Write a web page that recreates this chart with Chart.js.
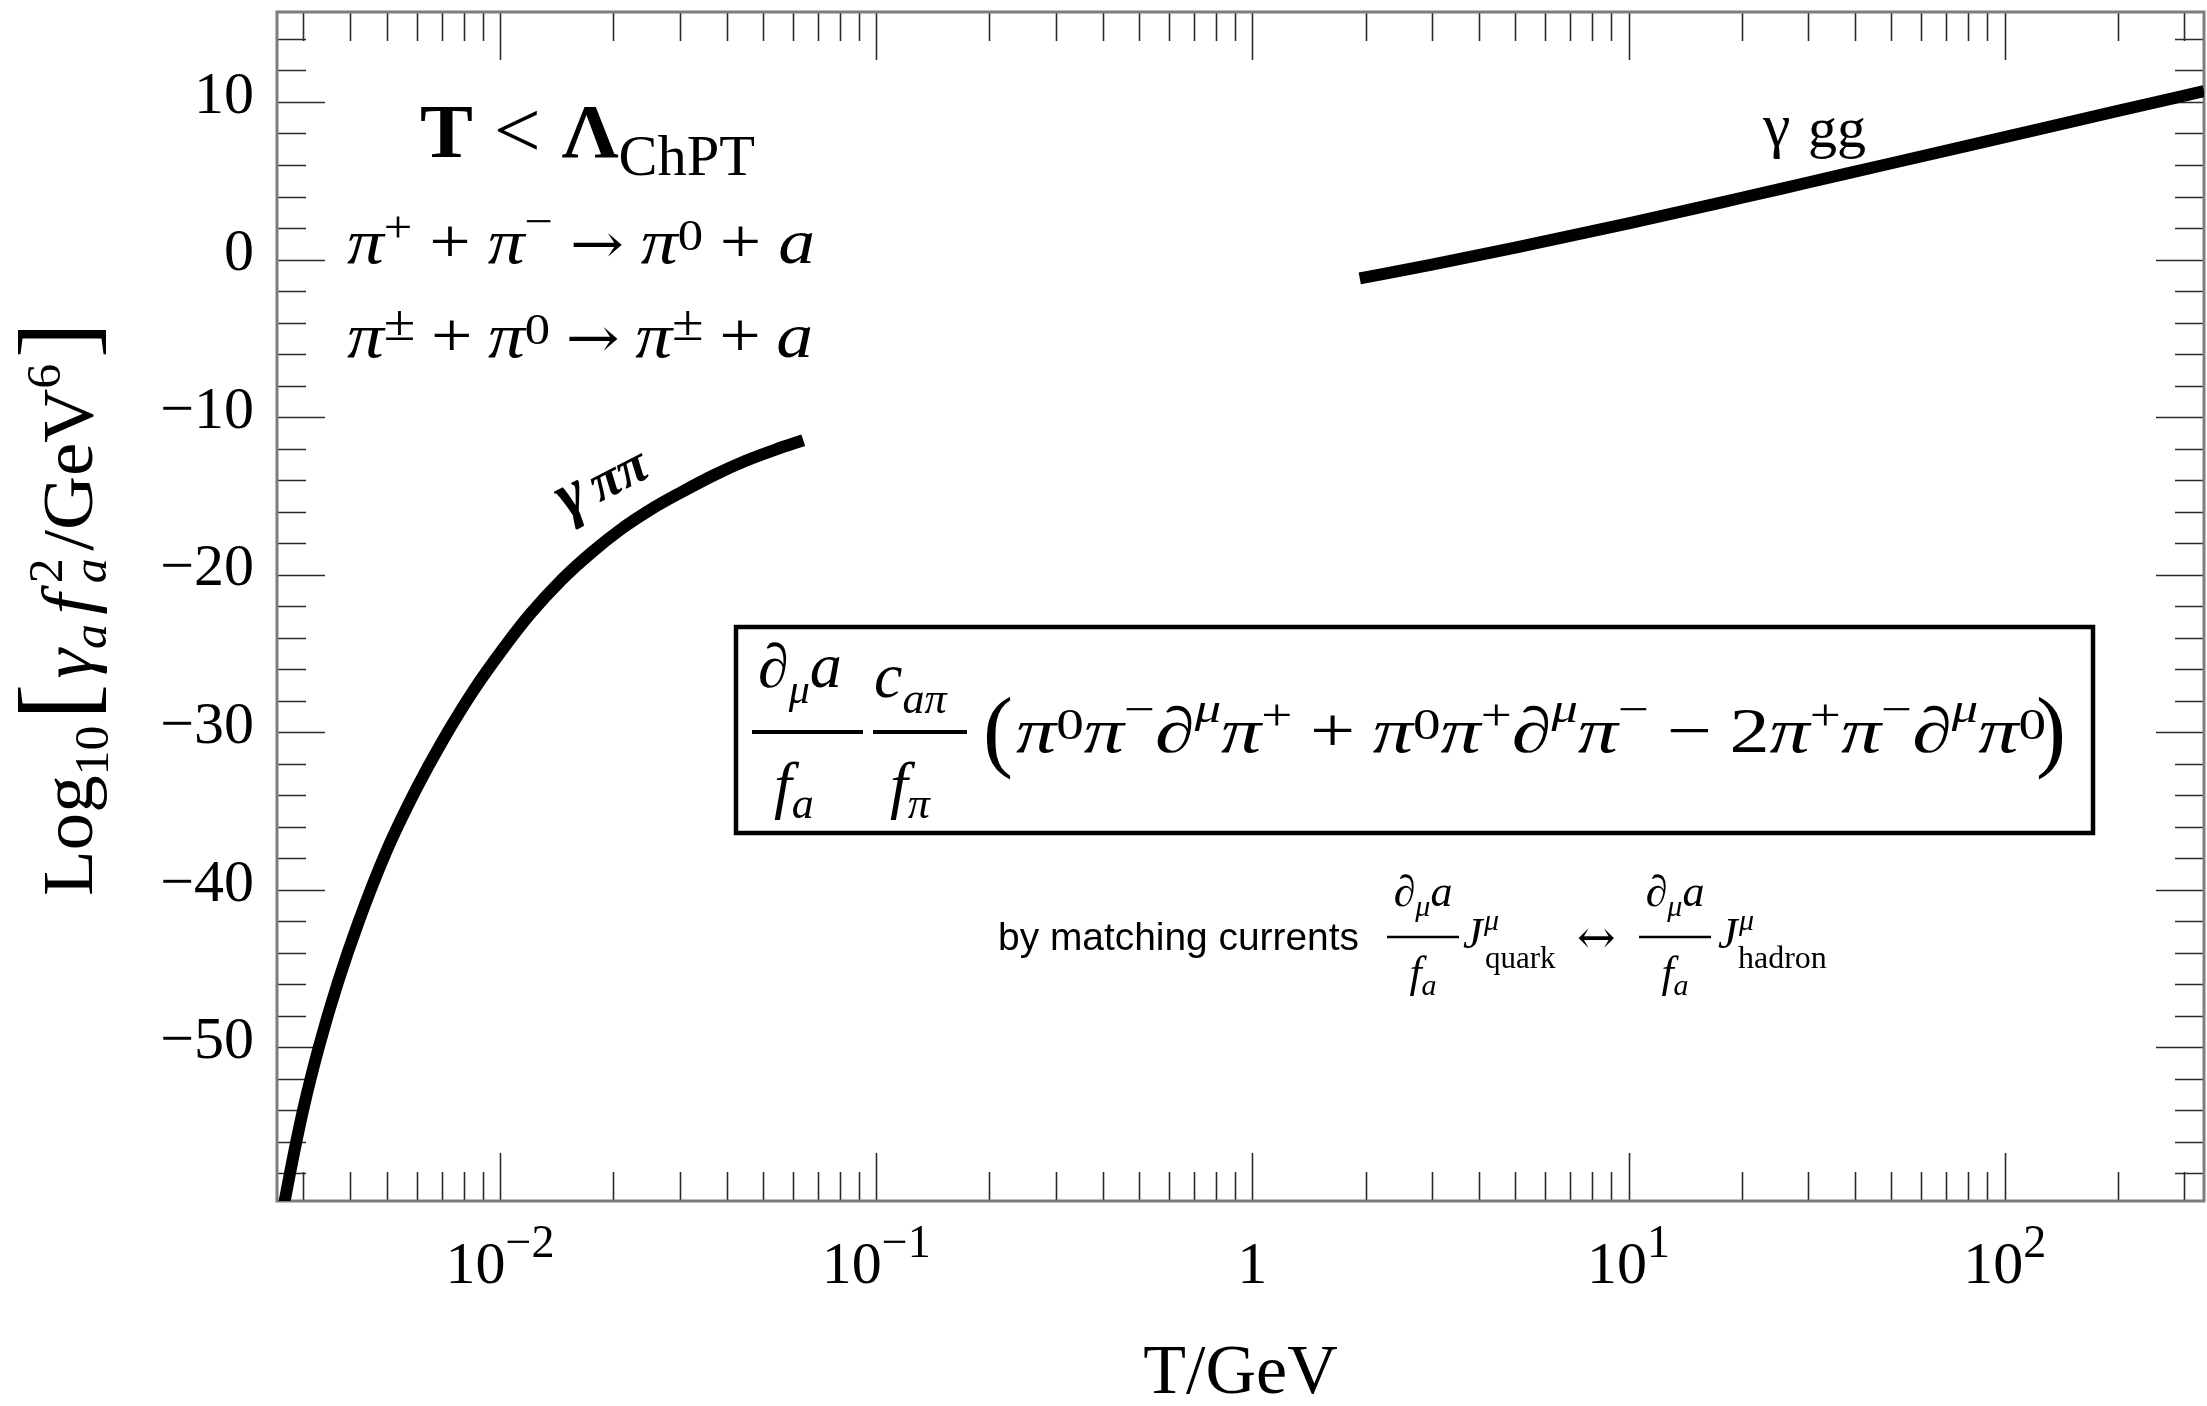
<!DOCTYPE html>
<html>
<head>
<meta charset="utf-8">
<script src="https://cdn.jsdelivr.net/npm/chart.js@4.4.1/dist/chart.umd.min.js"></script>
<style>
  html, body { margin: 0; padding: 0; background: #ffffff; }
  #wrap { width: 2207px; height: 1406px; }
  canvas { display: block; }
</style>
</head>
<body>
<div id="wrap"><canvas id="rates" width="2207" height="1406"></canvas></div>
<script>
// Pion scattering rate (T < Λ_ChPT), temperature in GeV
const tPion = [0.0026, 0.0028, 0.003, 0.0033, 0.0037, 0.0042, 0.005, 0.006, 0.007, 0.0085,
               0.01, 0.012, 0.0145, 0.0175, 0.021, 0.025, 0.03, 0.037, 0.045, 0.054, 0.064];
const logRatePion = [-61.3, -57.3, -53.9, -49.96, -45.93, -42.08, -37.5, -33.56, -30.63, -27.35,
                     -24.96, -22.52, -20.38, -18.6, -17.1, -15.9, -14.83, -13.69, -12.77, -12.06, -11.47];

// Gluon scattering rate, temperature in GeV
const tGluon = [1.93, 3, 5, 10, 20, 30, 50, 100, 200, 338.8];
const logRateGluon = [-1.2, -0.32, 0.756, 2.29, 3.92, 4.89, 6.11, 7.77, 9.43, 10.69];

// Axis ranges and labelled ticks
const xRange = [0.002553, 338.8];
const yRange = [-59.75, 15.71];
const xDecades = [0.01, 0.1, 1, 10, 100];
const xDecadeLabels = [['10', '−2'], ['10', '−1'], ['1', ''], ['10', '1'], ['10', '2']];
const yMajorTicks = [-50, -40, -30, -20, -10, 0, 10];

const SERIF = '"Liberation Serif", "Times New Roman", serif';
const SANS = '"Liberation Sans", Arial, sans-serif';
const ARROWS = '"DejaVu Serif", "DejaVu Sans", serif';
const F = (size, style) => `${style || ''} ${size}px ${SERIF}`.trim();

// Draw a run of differently styled pieces on one baseline.
// Piece: {t, f, dy, dx, stay, tight}. "dx" nudges the pen, "stay" keeps the pen in place
// (stacked sub/sup), "tight" attaches the piece to the one before it (no added spacing).
// With a target width the run is widened a little, then padded between main glyphs.
function rich(ctx, x, y, parts, target, maxStretch) {
  const widths = parts.map(p => { ctx.font = p.f; return ctx.measureText(p.t).width; });
  let natural = 0;
  parts.forEach((p, i) => { natural += (p.dx || 0); if (!p.stay) natural += widths[i]; });
  let sx = 1, extra = 0;
  if (target) {
    sx = Math.min(Math.max(target / natural, 1), maxStretch || 1);
    let gaps = 0;
    parts.forEach((p, i) => { if (i > 0 && !p.tight && !parts[i - 1].stay) gaps++; });
    extra = gaps ? (target / sx - natural) / gaps : 0;
  }
  ctx.save();
  ctx.translate(x, y);
  ctx.scale(sx, 1);
  ctx.textAlign = 'left';
  ctx.textBaseline = 'alphabetic';
  let cx = 0;
  parts.forEach((p, i) => {
    if (i > 0 && !p.tight && !parts[i - 1].stay) cx += extra;
    cx += (p.dx || 0);
    ctx.font = p.f;
    ctx.fillText(p.t, cx, p.dy || 0);
    if (!p.stay) cx += widths[i];
  });
  ctx.restore();
  return x + cx * sx;
}
function richWidth(ctx, parts) {
  let w = 0;
  parts.forEach(p => { ctx.font = p.f; w += (p.dx || 0); if (!p.stay) w += ctx.measureText(p.t).width; });
  return w;
}
function hline(ctx, x0, x1, y, w) {
  ctx.beginPath(); ctx.lineWidth = w; ctx.moveTo(x0, y); ctx.lineTo(x1, y); ctx.stroke();
}

// Frame with inward ticks on all four sides, and the decade labels
const framePlugin = {
  id: 'frameTicks',
  beforeDatasetsDraw(chart) {
    const { ctx, chartArea: a, scales: { x, y } } = chart;
    ctx.save();
    ctx.strokeStyle = '#2a2a2a';
    ctx.lineWidth = 1.6;
    ctx.beginPath();
    for (let e = -3; e <= 2; e++) {
      for (let m = 1; m <= 9; m++) {
        const v = m * Math.pow(10, e);
        if (v < xRange[0] || v > xRange[1]) continue;
        const px = Math.round(x.getPixelForValue(v)) + 0.5;
        const len = m === 1 ? 48 : 29;
        ctx.moveTo(px, a.bottom); ctx.lineTo(px, a.bottom - len);
        ctx.moveTo(px, a.top); ctx.lineTo(px, a.top + len);
      }
    }
    for (let v = -58; v <= 14; v += 2) {
      const py = Math.round(y.getPixelForValue(v)) + 0.5;
      const len = v % 10 === 0 ? 48 : 29;
      ctx.moveTo(a.left, py); ctx.lineTo(a.left + len, py);
      ctx.moveTo(a.right, py); ctx.lineTo(a.right - len, py);
    }
    ctx.stroke();
    ctx.strokeStyle = '#7d7d7d';
    ctx.lineWidth = 3;
    ctx.strokeRect(a.left, a.top, a.right - a.left, a.bottom - a.top);
    ctx.restore();
  },
  afterDraw(chart) {
    const { ctx, scales: { x } } = chart;
    ctx.save();
    ctx.fillStyle = '#000';
    xDecades.forEach((v, i) => {
      const [base, sup] = xDecadeLabels[i];
      const parts = [{ t: base, f: F(60) }];
      if (sup) parts.push({ t: sup, f: F(46), dy: -26 });
      const w = richWidth(ctx, parts);
      rich(ctx, x.getPixelForValue(v) - w / 2, 1283, parts);
    });
    ctx.restore();
  }
};

// Text annotations inside and beside the plot
const notePlugin = {
  id: 'notes',
  afterDatasetsDraw(chart) {
    const { ctx } = chart;
    ctx.save();
    ctx.fillStyle = '#000';
    ctx.strokeStyle = '#000';

    // y-axis title, rotated
    ctx.save();
    ctx.translate(92, 896);
    ctx.rotate(-Math.PI / 2);
    rich(ctx, 0, 0, [
      { t: 'Log', f: F(72) },
      { t: '10', f: F(48), dy: 16, tight: true },
      { t: '[', f: F(105), dx: 2 },
      { t: 'γ', f: F(72, 'italic'), dx: 2 },
      { t: 'a', f: F(48, 'italic'), dy: 14, tight: true },
      { t: 'f', f: F(72, 'italic'), dx: 6 },
      { t: '2', f: F(48), dy: -30, dx: 10, stay: true, tight: true },
      { t: 'a', f: F(48, 'italic'), dy: 14, tight: true },
      { t: '/GeV', f: F(72), dx: 4 },
      { t: '6', f: F(48), dy: -32, tight: true },
      { t: ']', f: F(105), dx: 2 }
    ], 574, 1.04);
    ctx.restore();

    // regime heading
    rich(ctx, 420, 157, [
      { t: 'T', f: F(76, 'bold') },
      { t: ' < ', f: F(80) },
      { t: 'Λ', f: F(76, 'bold') },
      { t: 'ChPT', f: F(56), dy: 18, tight: true }
    ], 335, 1.05);

    // reactions
    const pi = { t: 'π', f: F(64, 'italic') };
    const a = { t: 'a', f: F(64, 'italic') };
    const plus = { t: '+', f: F(64) };
    const arrow = { t: '→', f: `56px ${ARROWS}` };
    const supP = { t: '+', f: F(44), dy: -21, tight: true };
    const supM = { t: '−', f: F(44), dy: -27, tight: true };
    const sup0 = { t: '0', f: F(44), dy: -13, tight: true };
    const supPM = { t: '±', f: F(50), dy: -17, tight: true };
    rich(ctx, 347, 263, [pi, supP, plus, pi, supM, arrow, pi, sup0, plus, a], 468, 1.15);
    rich(ctx, 347, 357, [pi, supPM, plus, pi, sup0, arrow, pi, supPM, plus, a], 466, 1.15);

    // curve labels
    ctx.save();
    ctx.translate(567, 519);
    ctx.rotate(-27 * Math.PI / 180);
    rich(ctx, 0, 0, [
      { t: 'γ', f: F(66, 'bold italic') },
      { t: ' ', f: F(36) },
      { t: 'ππ', f: F(54, 'bold italic') }
    ]);
    ctx.restore();
    ctx.font = F(62); ctx.fillText('γ', 1763, 146);
    ctx.font = F(58); ctx.fillText('gg', 1808, 147);

    // boxed interaction term
    ctx.lineWidth = 4.5;
    ctx.strokeRect(736, 627, 1357, 206);
    // first fraction
    rich(ctx, 758, 687, [
      { t: '∂', f: F(62) }, { t: 'μ', f: F(42, 'italic'), dy: 16 }, { t: 'a', f: F(64, 'italic') }
    ]);
    hline(ctx, 752, 863, 732, 4);
    rich(ctx, 774, 806, [{ t: 'f', f: F(64, 'italic') }, { t: 'a', f: F(44, 'italic'), dy: 12 }]);
    // second fraction
    rich(ctx, 874, 697, [{ t: 'c', f: F(64, 'italic') }, { t: 'aπ', f: F(44, 'italic'), dy: 16 }]);
    hline(ctx, 873, 967, 732, 4);
    rich(ctx, 890, 806, [{ t: 'f', f: F(64, 'italic') }, { t: 'π', f: F(44, 'italic'), dy: 12 }]);
    // bracketed pion current
    ctx.font = F(90); ctx.fillText('(', 983, 760);
    const P = { t: 'π', f: F(64, 'italic') };
    const D = { t: '∂', f: F(64) };
    const MU = { t: 'μ', f: F(42, 'italic'), dy: -30, tight: true };
    const S0 = { t: '0', f: F(44), dy: -13, tight: true };
    const SP = { t: '+', f: F(44), dy: -22, tight: true };
    const SM = { t: '−', f: F(44), dy: -28, tight: true };
    rich(ctx, 1016, 752, [
      P, S0, P, SM, D, MU, P, SP, { t: '+', f: F(64), dx: 14 },
      { t: 'π', f: F(64, 'italic'), dx: 14 }, S0, P, SP, D, MU, P, SM, { t: '−', f: F(64), dx: 14 },
      { t: '2', f: F(64), dx: 14 }, P, SP, P, SM, D, MU, P, S0
    ], 1030, 1.32);
    ctx.font = F(90); ctx.fillText(')', 2036, 760);

    // matching note
    ctx.font = `34px ${SANS}`;
    const noteText = 'by matching currents';
    const fitSize = 34 * 361 / ctx.measureText(noteText).width;
    ctx.font = `${fitSize.toFixed(1)}px ${SANS}`;
    ctx.fillText(noteText, 998, 950);
    const fracAt = (cx) => {
      const num = [{ t: '∂', f: F(44) }, { t: 'μ', f: F(30, 'italic'), dy: 10 }, { t: 'a', f: F(44, 'italic') }];
      rich(ctx, cx - richWidth(ctx, num) / 2, 906, num);
      hline(ctx, cx - 36, cx + 36, 937, 2.5);
      const den = [{ t: 'f', f: F(44, 'italic') }, { t: 'a', f: F(30, 'italic'), dy: 8 }];
      rich(ctx, cx - richWidth(ctx, den) / 2, 987, den);
    };
    fracAt(1423);
    ctx.font = F(44, 'italic'); ctx.fillText('J', 1463, 948);
    ctx.font = F(30, 'italic'); ctx.fillText('μ', 1484, 930);
    ctx.font = F(31); ctx.fillText('quark', 1485, 968);
    ctx.font = `46px ${ARROWS}`; ctx.fillText('↔', 1577, 953);
    fracAt(1675);
    ctx.font = F(44, 'italic'); ctx.fillText('J', 1718, 948);
    ctx.font = F(30, 'italic'); ctx.fillText('μ', 1739, 930);
    ctx.font = F(32); ctx.fillText('hadron', 1738, 968);

    ctx.restore();
  }
};

const pionPoints = tPion.map((t, i) => ({ x: t, y: logRatePion[i] }));
const gluonPoints = tGluon.map((t, i) => ({ x: t, y: logRateGluon[i] }));

new Chart(document.getElementById('rates'), {
  type: 'line',
  data: {
    datasets: [
      { label: 'γππ', data: pionPoints, borderColor: '#000', borderWidth: 12, pointRadius: 0,
        fill: false, cubicInterpolationMode: 'monotone', borderCapStyle: 'butt', clip: 0 },
      { label: 'γgg', data: gluonPoints, borderColor: '#000', borderWidth: 12, pointRadius: 0,
        fill: false, cubicInterpolationMode: 'monotone', borderCapStyle: 'butt', clip: 0 }
    ]
  },
  options: {
    responsive: false,
    animation: false,
    devicePixelRatio: 1,
    layout: { padding: { left: 0, top: 12, right: 3, bottom: 0 } },
    plugins: { legend: { display: false }, tooltip: { enabled: false } },
    scales: {
      x: {
        type: 'logarithmic', min: xRange[0], max: xRange[1],
        grid: { display: false, drawTicks: false }, border: { display: false },
        ticks: { display: false },
        title: { display: true, text: 'T/GeV', color: '#000',
                 font: { family: 'Liberation Serif', size: 70, lineHeight: 0.9 },
                 padding: { top: 0, bottom: 0 } },
        afterFit(s) { s.height = 205; s.paddingLeft = 0; s.paddingRight = 0; }
      },
      y: {
        type: 'linear', min: yRange[0], max: yRange[1],
        grid: { display: false, drawTicks: false }, border: { display: false },
        afterBuildTicks(s) { s.ticks = yMajorTicks.map(v => ({ value: v })); },
        ticks: {
          color: '#000', padding: 23, labelOffset: -5,
          font: { family: 'Liberation Serif', size: 60 },
          callback: v => (v < 0 ? '−' + Math.abs(v) : String(v))
        },
        afterFit(s) { s.width = 277; s.paddingTop = 0; s.paddingBottom = 0; }
      }
    }
  },
  plugins: [framePlugin, notePlugin]
});
</script>
</body>
</html>
